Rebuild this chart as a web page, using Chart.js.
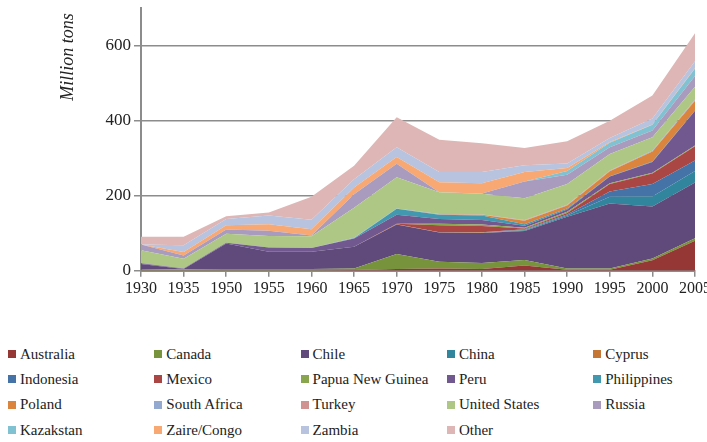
<!DOCTYPE html>
<html>
<head>
<meta charset="utf-8">
<script src="https://cdn.jsdelivr.net/npm/chart.js@4/dist/chart.umd.min.js"></script>
<style>
  html, body { margin: 0; padding: 0; background: #fff; overflow: hidden; }
  body { width: 707px; height: 442px; position: relative; }
  #wrap { position: absolute; left: 0; top: -10px; width: 720px; height: 310px; }
  #legend {
    position: absolute; left: 8px; top: 345px;
    display: grid; grid-template-columns: repeat(5, 146.3px); grid-auto-rows: 25.4px;
    font: 15px "Liberation Serif", serif; color: #222;
  }
  #legend div { display: flex; align-items: center; white-space: nowrap; height: 18px; }
  #legend i { display: inline-block; width: 8px; height: 8px; margin-right: 4px; }
</style>
</head>
<body>
<div id="wrap"><canvas id="c"></canvas></div>
<div id="legend"></div>
<script>
// copper ore production by country, million tons
var years = ["1930", "1935", "1950", "1955", "1960", "1965", "1970", "1975", "1980", "1985", "1990", "1995", "2000", "2005"];
var yTicks = [0, 200, 400, 600];

var australia   = [1, 1, 1, 1, 1, 2, 5, 6, 5, 14, 3, 3, 28, 80];
var canada      = [2, 3, 4, 4, 4, 4, 40, 18, 16, 15, 3, 3, 5, 7];
var chile       = [15, 1, 68, 46, 46, 58, 78, 78, 80, 77, 138, 173, 138, 148];
var china       = [0, 0, 0, 0, 0, 0, 0, 0, 0, 2, 3, 18, 27, 31];
var cyprus      = [0, 0, 0, 0, 0, 0, 1, 1, 1, 1, 0, 0, 0, 0];
var indonesia   = [0, 0, 0, 0, 0, 0, 0, 0, 1, 2, 3, 14, 33, 28];
var mexico      = [0, 0, 0, 0, 0, 0, 1, 18, 16, 2, 4, 20, 28, 38];
var papua       = [0, 0, 0, 0, 0, 0, 0, 4, 4, 2, 3, 2, 2, 2];
var peru        = [2, 1, 2, 11, 10, 22, 24, 13, 12, 5, 6, 18, 29, 92];
var philippines = [0, 0, 0, 0, 0, 1, 16, 11, 12, 4, 3, 1, 1, 1];
var poland      = [0, 0, 0, 0, 0, 0, 0, 1, 2, 9, 8, 13, 27, 26];
var southAfrica = [0, 0, 0, 0, 0, 1, 1, 1, 1, 1, 1, 1, 2, 2];
var turkey      = [0, 0, 0, 0, 0, 0, 0, 0, 0, 1, 1, 1, 0, 1];
var usa         = [35, 26, 24, 31, 31, 80, 83, 58, 55, 58, 55, 44, 36, 34];
var russia      = [15, 9, 11, 14, 2, 36, 36, 0, 1, 45, 25, 18, 18, 29];
var kazakstan   = [0, 0, 0, 0, 0, 0, 0, 0, 0, 0, 10, 12, 15, 20];
var zaire       = [0, 9, 11, 17, 17, 18, 18, 27, 27, 25, 8, 2, 1, 1];
var zambia      = [0, 18, 17, 23, 25, 22, 26, 27, 30, 18, 12, 11, 16, 18];
var other       = [21, 23, 7, 8, 61, 36, 80, 86, 77, 46, 59, 46, 61, 75];

var names = ["Australia", "Canada", "Chile", "China", "Cyprus", "Indonesia", "Mexico",
  "Papua New Guinea", "Peru", "Philippines", "Poland", "South Africa", "Turkey",
  "United States", "Russia", "Kazakstan", "Zaire/Congo", "Zambia", "Other"];
var series = [australia, canada, chile, china, cyprus, indonesia, mexico, papua, peru,
  philippines, poland, southAfrica, turkey, usa, russia, kazakstan, zaire, zambia, other];
var colors = ["#953735", "#77933C", "#604A7B", "#31859C", "#C57634", "#4572A7", "#AA4643",
  "#89A54E", "#71588F", "#4198AF", "#DB843D", "#93A9CF", "#D19392", "#AEC785",
  "#A99BBD", "#80C1D2", "#F8A872", "#B7C3DF", "#DEB6B5"];

var SERIF = '"Liberation Serif", "Times New Roman", serif';
var GRID = "#8c8c8c";

// rotated axis title sits near the top, not centred on the axis
var yTitle = {
  id: "yTitle",
  afterDraw: function (chart) {
    var ctx = chart.ctx, a = chart.chartArea;
    ctx.save();
    ctx.translate(a.left - 73, a.top + 49);
    ctx.rotate(-Math.PI / 2);
    ctx.font = "italic 18px " + SERIF;
    ctx.fillStyle = "#222";
    ctx.textAlign = "center";
    ctx.textBaseline = "middle";
    ctx.fillText("Million tons", 0, 0);
    ctx.restore();
  }
};

var chart = new Chart(document.getElementById("c"), {
  type: "line",
  data: {
    labels: years,
    datasets: series.map(function (d, i) {
      return {
        label: names[i], data: d,
        backgroundColor: colors[i], borderColor: colors[i], borderWidth: 0,
        pointRadius: 0, tension: 0, fill: i === 0 ? "origin" : "-1"
      };
    })
  },
  options: {
    responsive: true, maintainAspectRatio: false, animation: false,
    layout: { padding: { top: 18, right: 25, left: 0, bottom: 0 } },
    plugins: { legend: { display: false }, tooltip: { enabled: false } },
    scales: {
      x: {
        offset: false,
        grid: { drawOnChartArea: false, drawTicks: true, tickLength: 6, color: GRID, lineWidth: 1.5 },
        border: { color: GRID, width: 2 },
        ticks: { color: "#222", font: { family: SERIF, size: 16 }, maxRotation: 0, autoSkip: false, padding: 2 }
      },
      y: {
        stacked: true, min: 0, max: 700,
        afterBuildTicks: function (s) { s.ticks = yTicks.map(function (v) { return { value: v }; }); },
        afterFit: function (s) { s.width = 141; },
        grid: { color: GRID, lineWidth: 1.5, tickLength: 7 },
        border: { color: GRID, width: 2 },
        ticks: { color: "#222", font: { family: SERIF, size: 17 }, padding: 3 }
      }
    }
  },
  plugins: [yTitle]
});

document.getElementById("legend").innerHTML = names.map(function (n, i) {
  return "<div><i style='background:" + colors[i] + "'></i>" + n + "</div>";
}).join("");
</script>
</body>
</html>
